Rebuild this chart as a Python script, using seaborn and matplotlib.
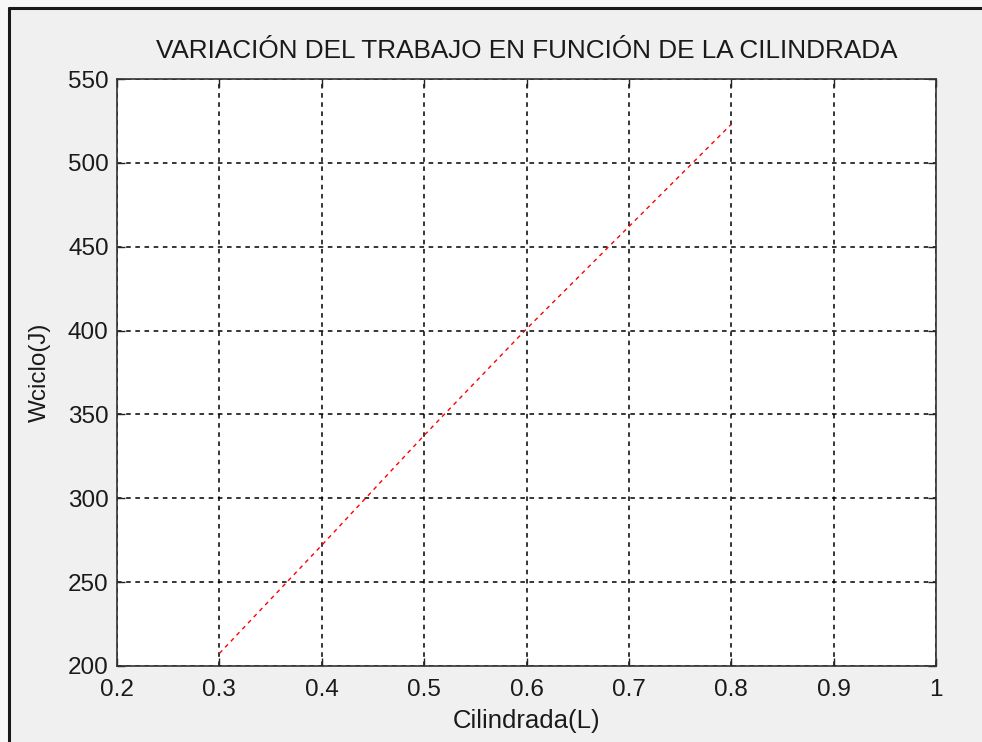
import matplotlib
matplotlib.use("Agg")
import matplotlib.pyplot as plt
from matplotlib.lines import Line2D
import seaborn as sns
import pandas as pd

# Work per cycle against engine displacement
cilindrada = [0.3, 0.4, 0.5, 0.6, 0.7, 0.8]
wciclo = [207.5, 272.0, 337.5, 401.0, 462.0, 523.0]

x_ticks = [0.2, 0.3, 0.4, 0.5, 0.6, 0.7, 0.8, 0.9, 1.0]
x_labels = ["0.2", "0.3", "0.4", "0.5", "0.6", "0.7", "0.8", "0.9", "1"]
y_ticks = [200, 250, 300, 350, 400, 450, 500, 550]

sns.set_theme(style="white")
plt.rcParams["font.family"] = ["Liberation Sans", "DejaVu Sans"]

df = pd.DataFrame({"Cilindrada": cilindrada, "Wciclo": wciclo})

fig = plt.figure(figsize=(9.82, 7.42), dpi=100, facecolor="#f0f0f0")
ax = fig.add_axes([117 / 982, 1 - 666 / 742, (936 - 117) / 982, (666 - 79) / 742])
ax.set_facecolor("white")

sns.lineplot(data=df, x="Cilindrada", y="Wciclo", ax=ax, color="red",
             linewidth=1.0, linestyle=(0, (3, 3)))

ax.set_xlim(0.2, 1.0)
ax.set_ylim(200, 550)
ax.set_xticks(x_ticks)
ax.set_xticklabels(x_labels)
ax.set_yticks(y_ticks)

ax.grid(True, color="black", linestyle=(0, (3, 3)), linewidth=1.1)
ax.set_axisbelow(True)
for s in ax.spines.values():
    s.set_color("#333333")
    s.set_linewidth(1.2)

ax.tick_params(direction="in", length=6, width=1, colors="#222222",
               top=True, right=True, bottom=True, left=True,
               labelsize=17.5, pad=6)
ax.tick_params(axis="x", pad=9)
for lbl in ax.get_xticklabels() + ax.get_yticklabels():
    lbl.set_color("#1a1a1a")

ax.set_title("VARIACIÓN DEL TRABAJO EN FUNCIÓN DE LA CILINDRADA",
             fontsize=18.8, color="#1a1a1a", pad=15)
ax.set_xlabel("Cilindrada(L)", fontsize=18.5, color="#1a1a1a", labelpad=6)
ax.set_ylabel("Wciclo(J)", fontsize=17.5, color="#1a1a1a", labelpad=12)

# Window frame along the top and left edges
fig.patches.append(matplotlib.patches.Rectangle((0, 1 - 7 / 742), 1, 7 / 742,
                   transform=fig.transFigure, facecolor="#f7f7f7", edgecolor="none"))
fig.patches.append(matplotlib.patches.Rectangle((0, 0), 8 / 982, 1,
                   transform=fig.transFigure, facecolor="#f7f7f7", edgecolor="none"))
fig.add_artist(Line2D([9 / 982, 1], [1 - 8 / 742, 1 - 8 / 742],
               transform=fig.transFigure, color="#1a1a1a", linewidth=2.2))
fig.add_artist(Line2D([9 / 982, 9 / 982], [0, 1 - 8 / 742],
               transform=fig.transFigure, color="#1a1a1a", linewidth=2.2))

fig.savefig("out.png", dpi=100, facecolor=fig.get_facecolor())
